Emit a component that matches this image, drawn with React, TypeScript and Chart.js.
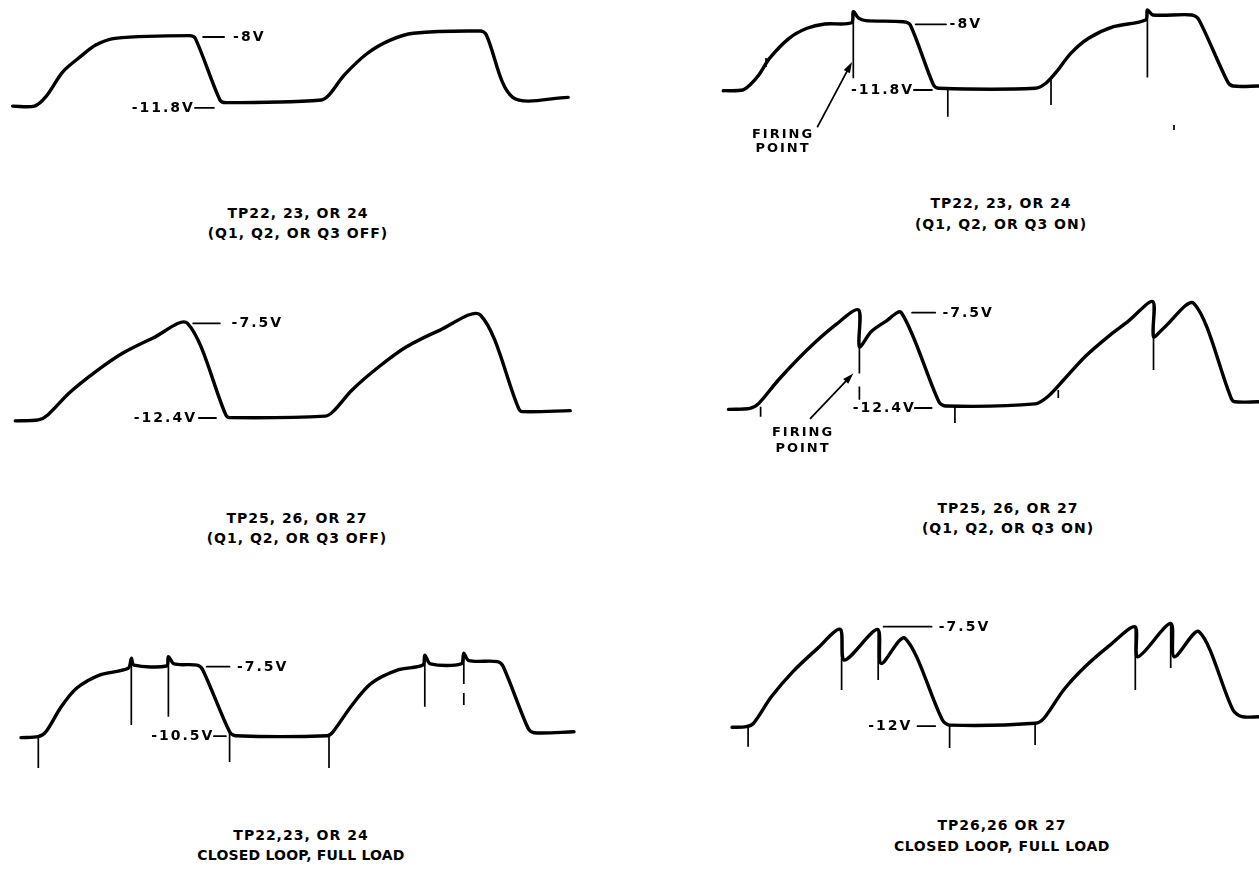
import React, { useEffect, useRef } from "react";
import { Chart, registerables } from "chart.js";
Chart.register(...registerables);

// ---------- Data (time in µs-like units, voltage in V) ----------
// Panel 1: TP22, 23, OR 24 (Q1, Q2, OR Q3 OFF)
const P1_TIME = [4.2, 11.5, 15.3, 21.0, 26.8, 31.9, 38.3, 63.1, 65.1, 73.3, 75.3, 107.2, 109.7, 114.8, 122.5, 130.1, 137.8, 160.1, 162.0, 170.9, 189.4];
const P1_VOLTS = [-12.04, -12.04, -11.49, -10.03, -9.15, -8.47, -8.08, -7.92, -8.08, -11.68, -11.84, -11.68, -11.39, -10.22, -8.95, -8.18, -7.78, -7.65, -7.84, -11.53, -11.53];
const P1_SPIKE_T: number[] = [];
const P1_SPIKE_TOP: number[] = [];
const P1_SPIKE_BOTTOM: number[] = [];

// Panel 2: TP22, 23, OR 24 (Q1, Q2, OR Q3 ON)
const P2_TIME = [7.73, 14.27, 16.63, 19.6, 23.17, 29.7, 35.67, 41.6, 50.5, 51.1, 52.87, 55.27, 67.73, 70.1, 77.83, 79.63, 111.7, 115.27, 118.83, 123.6, 129.53, 137.83, 148.53, 149.13, 150.93, 164, 166.33, 175.87, 177.67, 186.33];
const P2_VOLTS = [-11.84, -11.8, -11.51, -10.93, -9.97, -8.81, -8.23, -7.98, -7.91, -7.27, -7.65, -7.79, -7.85, -8.04, -11.51, -11.7, -11.7, -11.41, -10.74, -9.68, -8.81, -8.14, -7.75, -7.17, -7.46, -7.46, -7.75, -11.32, -11.57, -11.57];
const P2_SPIKE_T = [51.1, 149.13, 82.6, 117, 158, 22];
const P2_SPIKE_TOP = [-7.27, -7.17, -11.8, -11.22, -13.82, -9.95];
const P2_SPIKE_BOTTOM = [-11.12, -11.07, -13.34, -12.67, -14.11, -10.47];

// Panel 3: TP25, 26, OR 27 (Q1, Q2, OR Q3 OFF)
const P3_TIME = [5.1, 12.77, 15.93, 22.97, 31.9, 40.83, 51.03, 62.5, 75.27, 76.53, 108.43, 111, 117.37, 126.3, 135.23, 146.7, 160.1, 172.87, 174.13, 190.07];
const P3_VOLTS = [-12.55, -12.5, -12.24, -11.12, -10.0, -9.05, -8.26, -7.5, -12.24, -12.38, -12.3, -12.07, -10.95, -9.75, -8.74, -7.85, -7.07, -11.9, -12.07, -12.02];
const P3_SPIKE_T: number[] = [];
const P3_SPIKE_TOP: number[] = [];
const P3_SPIKE_BOTTOM: number[] = [];

// Panel 4: TP25, 26, OR 27 (Q1, Q2, OR Q3 ON)
const P4_TIME = [9.5, 16.63, 19.6, 26.13, 35.67, 45.17, 52.87, 53.13, 57.03, 61.8, 67.13, 79.63, 82, 111.7, 115.87, 121.2, 128.33, 136.67, 142.6, 150.93, 151.17, 154.5, 164.6, 177.07, 178.27, 186.33];
const P4_VOLTS = [-12.47, -12.42, -12.16, -10.96, -9.42, -8.13, -7.36, -9.25, -8.48, -7.96, -7.5, -12.08, -12.3, -12.19, -11.82, -10.96, -9.76, -8.65, -7.96, -6.93, -8.73, -8.3, -7.02, -11.9, -12.08, -12.08];
const P4_SPIKE_T = [53.13, 53.13, 151.17, 20.2, 84.97, 119.43];
const P4_SPIKE_TOP = [-7.36, -11.3, -6.93, -12.33, -12.25, -11.47];
const P4_SPIKE_BOTTOM = [-10.62, -11.98, -10.45, -12.85, -13.17, -11.89];

// Panel 5: TP22,23, OR 24 closed loop, full load
const P5_TIME = [7, 12.77, 15.3, 20.4, 25.5, 33.17, 42.73, 43.77, 44.67, 55.5, 56.13, 58.03, 65.7, 67.6, 76.53, 78.47, 109.07, 111, 117.37, 123.73, 132.67, 140.97, 141.6, 143.5, 153.73, 154.6, 156.27, 165.83, 167.77, 176.03, 177.97, 191.33];
const P5_VOLTS = [-10.56, -10.52, -10.31, -9.23, -8.43, -7.86, -7.57, -7.14, -7.43, -7.47, -7.07, -7.38, -7.43, -7.64, -10.31, -10.48, -10.48, -10.31, -9.15, -8.22, -7.64, -7.43, -7.0, -7.38, -7.38, -6.92, -7.24, -7.28, -7.5, -10.16, -10.35, -10.31];
const P5_SPIKE_T = [43.77, 56.13, 141.6, 154.6, 154.6, 12.77, 76.53, 109.67];
const P5_SPIKE_TOP = [-7.14, -7.07, -7.0, -6.92, -8.64, -10.52, -10.31, -10.48];
const P5_SPIKE_BOTTOM = [-10.02, -9.66, -9.23, -8.25, -9.15, -11.87, -11.61, -11.87];

// Panel 6: TP26,26 OR 27 closed loop, full load
const P6_TIME = [10.7, 15.43, 17.83, 23.77, 30.9, 39.2, 46.7, 48.13, 59.17, 60.37, 68.33, 80.8, 83.2, 111.7, 114.67, 121.2, 128.33, 136.67, 145, 145.93, 156.87, 158.07, 166.37, 177.67, 180.63, 186.33];
const P6_VOLTS = [-12.05, -12.02, -11.87, -10.67, -9.54, -8.48, -7.62, -9.01, -7.62, -9.16, -8.02, -11.72, -11.95, -11.87, -11.64, -10.36, -9.31, -8.33, -7.5, -8.86, -7.35, -8.86, -7.73, -11.27, -11.57, -11.57];
const P6_SPIKE_T = [47.2, 59.4, 145.1, 156.9, 16.03, 83.2, 111.7];
const P6_SPIKE_TOP = [-7.62, -7.62, -7.5, -7.35, -12.02, -11.95, -11.87];
const P6_SPIKE_BOTTOM = [-10.36, -9.91, -10.36, -9.37, -12.93, -12.99, -12.85];

// Level labels (text)
const P1_LEVELS = ["-8V", "-11.8V"];
const P2_LEVELS = ["-8V", "-11.8V"];
const P3_LEVELS = ["-7.5V", "-12.4V"];
const P4_LEVELS = ["-7.5V", "-12.4V"];
const P5_LEVELS = ["-7.5V", "-10.5V"];
const P6_LEVELS = ["-7.5V", "-12V"];

const CAPTION_1 = ["TP22, 23, OR 24", "(Q1, Q2, OR Q3 OFF)"];
const CAPTION_2 = ["TP22, 23, OR 24", "(Q1, Q2, OR Q3 ON)"];
const CAPTION_3 = ["TP25, 26, OR 27", "(Q1, Q2, OR Q3 OFF)"];
const CAPTION_4 = ["TP25, 26, OR 27", "(Q1, Q2, OR Q3 ON)"];
const CAPTION_5 = ["TP22,23, OR 24", "CLOSED LOOP, FULL LOAD"];
const CAPTION_6 = ["TP26,26 OR 27", "CLOSED LOOP, FULL LOAD"];
const FIRING_TEXT = ["FIRING", "POINT"];

// ---------- Layout / annotation config ----------
type Label = { text: string; v: number; side: "left" | "right"; line: [number, number]; textT: number };
type Panel = {
  time: number[]; volts: number[]; spikeT: number[]; spikeTop: number[]; spikeBottom: number[];
  left: number; top: number; w: number; h: number;
  xMin: number; xMax: number; yMin: number; yMax: number;
  labels: Label[];
  arrow?: { from: [number, number]; to: [number, number] };
  firing?: { t: number; v: number[] };
};

const PANELS: Panel[] = [
  {
    time: P1_TIME, volts: P1_VOLTS, spikeT: P1_SPIKE_T, spikeTop: P1_SPIKE_TOP, spikeBottom: P1_SPIKE_BOTTOM,
    left: 0, top: 0, w: 600, h: 150, xMin: 0, xMax: 200, yMin: -14.608, yMax: -5.836,
    labels: [
      { text: P1_LEVELS[0], v: -8, side: "right", line: [67.7, 74.7], textT: 77.7 },
      { text: P1_LEVELS[1], v: -12.15, side: "left", line: [65, 71.3], textT: 64.3 },
    ],
  },
  {
    time: P2_TIME, volts: P2_VOLTS, spikeT: P2_SPIKE_T, spikeTop: P2_SPIKE_TOP, spikeBottom: P2_SPIKE_BOTTOM,
    left: 700, top: 0, w: 559, h: 160, xMin: 0, xMax: 186.33, yMin: -15.848, yMax: -6.595,
    labels: [
      { text: P2_LEVELS[0], v: -8, side: "right", line: [71.9, 82], textT: 83.2 },
      { text: P2_LEVELS[1], v: -11.8, side: "left", line: [71.3, 77.3], textT: 70.7 },
    ],
    arrow: { from: [39.2, -13.92], to: [50.67, -10.18] },
    firing: { t: 27.33, v: [-14.4, -15.21] },
  },
  {
    time: P3_TIME, volts: P3_VOLTS, spikeT: P3_SPIKE_T, spikeTop: P3_SPIKE_TOP, spikeBottom: P3_SPIKE_BOTTOM,
    left: 0, top: 290, w: 600, h: 160, xMin: 0, xMax: 200, yMin: -14.055, yMax: -5.777,
    labels: [
      { text: P3_LEVELS[0], v: -7.5, side: "right", line: [64.4, 73.3], textT: 77.2 },
      { text: P3_LEVELS[1], v: -12.4, side: "left", line: [66.3, 72], textT: 65 },
    ],
  },
  {
    time: P4_TIME, volts: P4_VOLTS, spikeT: P4_SPIKE_T, spikeTop: P4_SPIKE_TOP, spikeBottom: P4_SPIKE_BOTTOM,
    left: 700, top: 290, w: 559, h: 170, xMin: 0, xMax: 186.33, yMin: -15.073, yMax: -6.333,
    labels: [
      { text: P4_LEVELS[0], v: -7.5, side: "right", line: [70.7, 78.4], textT: 80.8 },
      { text: P4_LEVELS[1], v: -12.4, side: "left", line: [71.6, 77.2], textT: 71.3 },
    ],
    arrow: { from: [36.83, -12.93], to: [51.1, -10.62] },
    firing: { t: 34, v: [-13.69, -14.51] },
  },
  {
    time: P5_TIME, volts: P5_VOLTS, spikeT: P5_SPIKE_T, spikeTop: P5_SPIKE_TOP, spikeBottom: P5_SPIKE_BOTTOM,
    left: 0, top: 600, w: 600, h: 180, xMin: 0, xMax: 200, yMin: -12.39, yMax: -4.621,
    labels: [
      { text: P5_LEVELS[0], v: -7.5, side: "right", line: [68.9, 76.5], textT: 79 },
      { text: P5_LEVELS[1], v: -10.5, side: "left", line: [71.3, 75.3], textT: 70.8 },
    ],
  },
  {
    time: P6_TIME, volts: P6_VOLTS, spikeT: P6_SPIKE_T, spikeTop: P6_SPIKE_TOP, spikeBottom: P6_SPIKE_BOTTOM,
    left: 700, top: 590, w: 559, h: 170, xMin: 0, xMax: 186.33, yMin: -13.529, yMax: -5.84,
    labels: [
      { text: P6_LEVELS[0], v: -7.5, side: "right", line: [61.2, 77.2], textT: 79.6 },
      { text: P6_LEVELS[1], v: -12, side: "left", line: [72.5, 78.4], textT: 70.1 },
    ],
  },
];

const CAPTIONS = [
  { lines: CAPTION_1, cx: 298, top: 203, lh: 20, ls: [1, 1] },
  { lines: CAPTION_2, cx: 1001, top: 193, lh: 21, ls: [1, 1] },
  { lines: CAPTION_3, cx: 297, top: 508, lh: 20, ls: [1, 1] },
  { lines: CAPTION_4, cx: 1008, top: 498, lh: 20, ls: [1, 1] },
  { lines: CAPTION_5, cx: 301, top: 825, lh: 20, ls: [1, 0.2] },
  { lines: CAPTION_6, cx: 1002, top: 815, lh: 21, ls: [1, 0.6] },
];

const FONT = '"DejaVu Sans", "Liberation Sans", sans-serif';

function makeAnnotPlugin(p: Panel) {
  return {
    id: "annot",
    afterDatasetsDraw(chart: any) {
      const ctx: CanvasRenderingContext2D = chart.ctx;
      const x = chart.scales.x;
      const y = chart.scales.y;
      ctx.save();
      ctx.strokeStyle = "#000";
      ctx.fillStyle = "#000";
      ctx.lineCap = "round";
      ctx.font = `bold 14px ${FONT}`;
      (ctx as any).letterSpacing = "2px";
      ctx.textBaseline = "middle";
      for (const lb of p.labels) {
        const py = y.getPixelForValue(lb.v);
        ctx.lineWidth = 1.8;
        ctx.beginPath();
        ctx.moveTo(x.getPixelForValue(lb.line[0]), py);
        ctx.lineTo(x.getPixelForValue(lb.line[1]), py);
        ctx.stroke();
        if (lb.side === "right") {
          ctx.textAlign = "left";
          ctx.fillText(lb.text, x.getPixelForValue(lb.textT), py + 0.5);
        } else {
          ctx.textAlign = "right";
          ctx.fillText(lb.text, x.getPixelForValue(lb.textT) + 2, py + 0.5);
        }
      }
      if (p.arrow) {
        const x0 = x.getPixelForValue(p.arrow.from[0]);
        const y0 = y.getPixelForValue(p.arrow.from[1]);
        const x1 = x.getPixelForValue(p.arrow.to[0]);
        const y1 = y.getPixelForValue(p.arrow.to[1]);
        const ang = Math.atan2(y1 - y0, x1 - x0);
        const L = 11, Wd = 3.5;
        const bx = x1 - L * Math.cos(ang);
        const by = y1 - L * Math.sin(ang);
        ctx.lineWidth = 1.8;
        ctx.beginPath();
        ctx.moveTo(x0, y0);
        ctx.lineTo(bx, by);
        ctx.stroke();
        ctx.beginPath();
        ctx.moveTo(x1, y1);
        ctx.lineTo(bx + Wd * Math.sin(ang), by - Wd * Math.cos(ang));
        ctx.lineTo(bx - Wd * Math.sin(ang), by + Wd * Math.cos(ang));
        ctx.closePath();
        ctx.fill();
      }
      if (p.firing) {
        ctx.textAlign = "center";
        ctx.font = `bold 13px ${FONT}`;
        (ctx as any).letterSpacing = "2px";
        FIRING_TEXT.forEach((s, i) => {
          ctx.fillText(s, x.getPixelForValue(p.firing!.t) + 1, y.getPixelForValue(p.firing!.v[i]));
        });
      }
      ctx.restore();
    },
  };
}

function WavePanel({ p }: { p: Panel }) {
  const ref = useRef<HTMLCanvasElement>(null);
  useEffect(() => {
    const canvas = ref.current;
    if (!canvas) return;
    const trace = p.time.map((t, i) => ({ x: t, y: p.volts[i] }));
    const spikes: any[] = [];
    p.spikeT.forEach((t, i) => {
      spikes.push({ x: t, y: p.spikeTop[i] }, { x: t, y: p.spikeBottom[i] }, { x: t, y: null });
    });
    const chart = new Chart(canvas, {
      type: "scatter",
      data: {
        datasets: [
          {
            data: trace,
            showLine: true,
            borderColor: "#000",
            borderWidth: 3.4,
            pointRadius: 0,
            tension: 0.3,
            borderCapStyle: "round",
            borderJoinStyle: "round",
            clip: false,
          } as any,
          {
            data: spikes,
            showLine: true,
            borderColor: "#000",
            borderWidth: 1.7,
            pointRadius: 0,
            spanGaps: false,
            tension: 0,
            clip: false,
          } as any,
        ],
      },
      options: {
        responsive: false,
        animation: false,
        events: [],
        layout: { padding: 0 },
        scales: {
          x: { type: "linear", display: false, min: p.xMin, max: p.xMax },
          y: { type: "linear", display: false, min: p.yMin, max: p.yMax },
        },
        plugins: { legend: { display: false }, tooltip: { enabled: false } },
      },
      plugins: [makeAnnotPlugin(p)],
    });
    return () => chart.destroy();
  }, [p]);
  return (
    <canvas
      ref={ref}
      width={p.w}
      height={p.h}
      style={{ position: "absolute", left: p.left, top: p.top, width: p.w, height: p.h }}
    />
  );
}

export default function App() {
  return (
    <div
      style={{
        position: "absolute",
        left: 0,
        top: 0,
        width: 1259,
        height: 870,
        background: "#fff",
        overflow: "hidden",
      }}
    >
      {PANELS.map((p, i) => (
        <WavePanel key={i} p={p} />
      ))}
      {CAPTIONS.map((c, i) => (
        <div
          key={i}
          style={{
            position: "absolute",
            left: c.cx - 160,
            top: c.top,
            width: 320,
            textAlign: "center",
            fontFamily: FONT,
            fontWeight: "bold",
            fontSize: 14,
            lineHeight: `${c.lh}px`,
            color: "#000",
            whiteSpace: "nowrap",
          }}
        >
          {c.lines.map((l, j) => (
            <div key={j} style={{ letterSpacing: `${c.ls[j]}px` }}>
              {l}
            </div>
          ))}
        </div>
      ))}
    </div>
  );
}
